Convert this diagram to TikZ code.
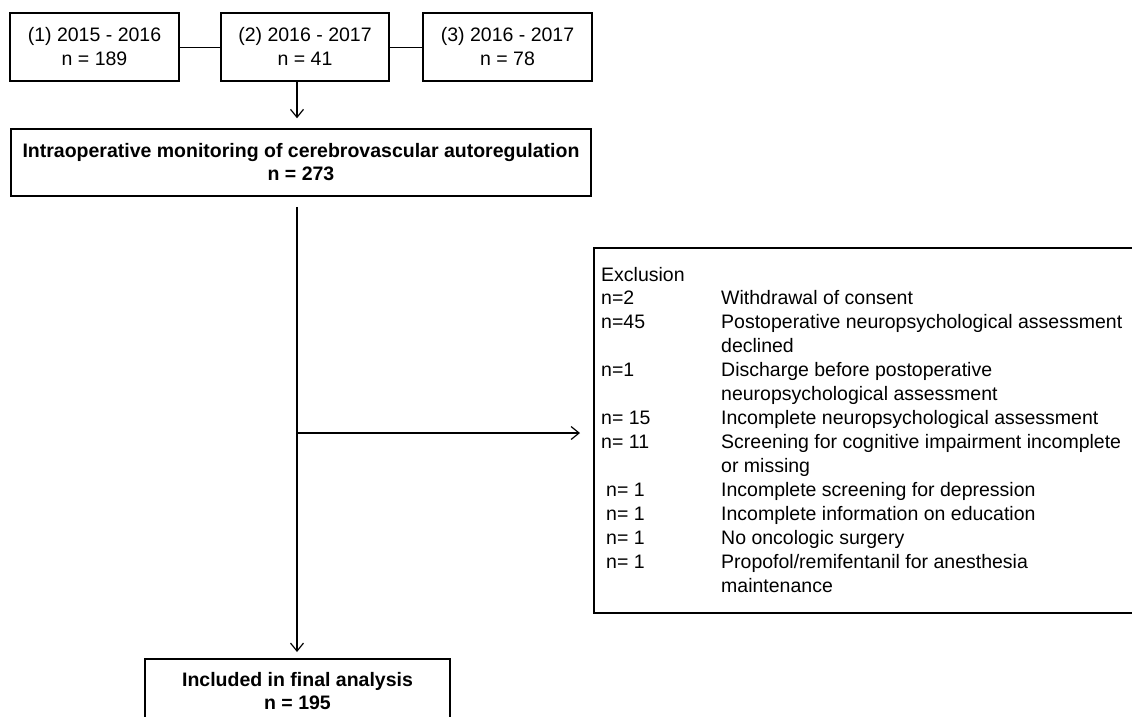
\documentclass[tikz,border=0pt]{standalone}
\usepackage{fontspec}
\setmainfont{Liberation Sans}
\usetikzlibrary{arrows.meta}
\newcommand\topstrut{\rule{0pt}{19.2pt}}
\begin{document}
\begin{tikzpicture}[x=1pt,y=-1pt,
  box/.style={draw,line width=1.5pt,align=center,inner sep=0pt,font=\fontsize{19.5}{24}\selectfont},
  boldbox/.style={box,font=\fontsize{19.5}{23}\selectfont\bfseries},
  conn/.style={line width=0.9pt},
  arr/.style={line width=1.2pt,-{Straight Barb[length=8pt,width=13pt,line width=1.2pt]}}]
\useasboundingbox (0,0) rectangle (1132,716);
\clip (0,0) rectangle (1132,716);
\node[box,minimum width=169pt,minimum height=68pt] (b1) at (94.5,47) {\topstrut(1) 2015 - 2016\\n = 189\strut};
\node[box,minimum width=168pt,minimum height=68pt] (b2) at (305,47) {\topstrut(2) 2016 - 2017\\n = 41\strut};
\node[box,minimum width=169pt,minimum height=68pt] (b3) at (507.5,47) {\topstrut(3) 2016 - 2017\\n = 78\strut};
\node[boldbox,minimum width=580pt,minimum height=67pt] (main) at (301,162.5) {Intraoperative monitoring of cerebrovascular autoregulation\\n = 273};
\node[boldbox,minimum width=305pt,minimum height=65pt,anchor=north] (final) at (297.5,658) {Included in final analysis\\n = 195};
\node[draw,line width=1.5pt,minimum width=560pt,minimum height=365pt,anchor=north west,inner sep=0pt] (excl) at (593,247) {};
\node[anchor=base west,inner sep=0pt,font=\fontsize{19.5}{23.95}\selectfont] (excltext) at (601,281) {%
\begin{tabular}[t]{@{}p{120pt}@{}l@{}}
Exclusion & \\
n=2 & Withdrawal of consent\\
n=45 & Postoperative neuropsychological assessment\\
 & declined\\
n=1 & Discharge before postoperative\\
 & neuropsychological assessment\\
n= 15 & Incomplete neuropsychological assessment\\
n= 11 & Screening for cognitive impairment incomplete\\
 & or missing\\
\hspace*{5pt}n= 1 & Incomplete screening for depression\\
\hspace*{5pt}n= 1 & Incomplete information on education\\
\hspace*{5pt}n= 1 & No oncologic surgery\\
\hspace*{5pt}n= 1 & Propofol/remifentanil for anesthesia\\
 & maintenance
\end{tabular}};
\coordinate (split) at (297,433);
\draw[conn] (b1) -- (b2);
\draw[conn] (b2) -- (b3);
\draw[arr,shorten >=10pt] (b2.south -| split) -- (main.north -| split);
\draw[arr,shorten <=10pt,shorten >=6pt] (main.south -| split) -- (final.north -| split);
\draw[arr,shorten >=13pt] (split) -- (split -| excl.west);
\end{tikzpicture}
\end{document}
